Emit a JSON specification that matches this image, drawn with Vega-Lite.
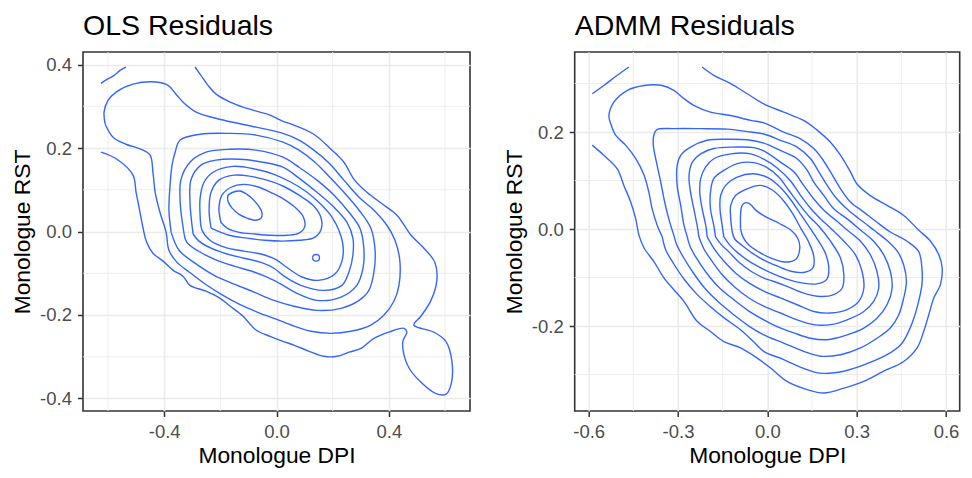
{
  "$schema": "https://vega.github.io/schema/vega-lite/v6.json",
  "background": "white",
  "padding": {"left": 10, "top": 10, "right": 5, "bottom": 5},
  "spacing": 29.7,
  "config": {
    "font": "Liberation Sans",
    "locale": {"number": {"decimal": ".", "thousands": ",", "grouping": [3], "currency": ["$", ""], "minus": "-"}},
    "view": {"stroke": "#333333", "strokeWidth": 1.6},
    "axis": {
      "domain": false, "grid": true, "gridColor": "#EBEBEB", "gridWidth": 1.6,
      "ticks": true, "tickColor": "#333333", "tickWidth": 1.5, "tickSize": 5.5,
      "labelColor": "#4D4D4D", "labelFont": "Liberation Sans", "labelFontSize": 18.5, "format": ".1f",
      "titleFont": "Liberation Sans", "titleFontSize": 22.8, "titleFontWeight": "normal", "titleColor": "#000000"
    },
    "axisX": {"labelPadding": 5.5, "titlePadding": 4},
    "axisY": {"labelPadding": 6, "titlePadding": 5},
    "title": {"font": "Liberation Sans", "fontSize": 28.5, "fontWeight": "normal", "color": "#000000", "anchor": "start", "frame": "group", "baseline": "alphabetic", "offset": 11.5}
  },
  "datasets": {
    "olsMinorX": [{"v": -0.6}, {"v": -0.2}, {"v": 0.2}, {"v": 0.6}],
    "olsMinorY": [{"v": -0.3}, {"v": -0.1}, {"v": 0.1}, {"v": 0.3}],
    "admmMinorX": [{"v": -0.45}, {"v": -0.15}, {"v": 0.15}, {"v": 0.45}],
    "admmMinorY": [{"v": -0.3}, {"v": -0.1}, {"v": 0.1}, {"v": 0.3}],
    "ols": [
      {"c":"L1","x":-0.625,"y":0.190},{"c":"L1","x":-0.568,"y":0.173},{"c":"L1","x":-0.511,"y":0.135},{"c":"L1","x":-0.500,"y":0.094},{"c":"L1","x":-0.486,"y":0.046},{"c":"L1","x":-0.475,"y":0.008},{"c":"L1","x":-0.464,"y":-0.023},{"c":"L1","x":-0.440,"y":-0.052},{"c":"L1","x":-0.404,"y":-0.071},{"c":"L1","x":-0.368,"y":-0.093},{"c":"L1","x":-0.333,"y":-0.107},{"c":"L1","x":-0.308,"y":-0.129},{"c":"L1","x":-0.251,"y":-0.143},{"c":"L1","x":-0.201,"y":-0.160},{"c":"L1","x":-0.165,"y":-0.179},{"c":"L1","x":-0.119,"y":-0.203},{"c":"L1","x":-0.073,"y":-0.236},{"c":"L1","x":-0.023,"y":-0.251},{"c":"L1","x":0.023,"y":-0.263},{"c":"L1","x":0.062,"y":-0.272},{"c":"L1","x":0.116,"y":-0.287},{"c":"L1","x":0.169,"y":-0.299},{"c":"L1","x":0.215,"y":-0.299},{"c":"L1","x":0.258,"y":-0.289},{"c":"L1","x":0.301,"y":-0.280},{"c":"L1","x":0.347,"y":-0.256},{"c":"L1","x":0.400,"y":-0.241},{"c":"L1","x":0.454,"y":-0.232},{"c":"L1","x":0.464,"y":-0.241},{"c":"L1","x":0.450,"y":-0.263},{"c":"L1","x":0.454,"y":-0.296},{"c":"L1","x":0.472,"y":-0.327},{"c":"L1","x":0.511,"y":-0.359},{"c":"L1","x":0.564,"y":-0.387},{"c":"L1","x":0.603,"y":-0.390},{"c":"L1","x":0.621,"y":-0.368},{"c":"L1","x":0.625,"y":-0.313},{"c":"L1","x":0.603,"y":-0.263},{"c":"L1","x":0.560,"y":-0.241},{"c":"L1","x":0.489,"y":-0.224},{"c":"L1","x":0.514,"y":-0.203},{"c":"L1","x":0.550,"y":-0.165},{"c":"L1","x":0.571,"y":-0.117},{"c":"L1","x":0.564,"y":-0.074},{"c":"L1","x":0.525,"y":-0.040},{"c":"L1","x":0.479,"y":-0.009},{"c":"L1","x":0.429,"y":0.039},{"c":"L1","x":0.383,"y":0.063},{"c":"L1","x":0.322,"y":0.094},{"c":"L1","x":0.276,"y":0.125},{"c":"L1","x":0.240,"y":0.166},{"c":"L1","x":0.194,"y":0.197},{"c":"L1","x":0.133,"y":0.233},{"c":"L1","x":0.062,"y":0.255},{"c":"L1","x":0.023,"y":0.264},{"c":"L1","x":-0.023,"y":0.279},{"c":"L1","x":-0.059,"y":0.286},{"c":"L1","x":-0.119,"y":0.298},{"c":"L1","x":-0.165,"y":0.310},{"c":"L1","x":-0.215,"y":0.329},{"c":"L1","x":-0.244,"y":0.350},{"c":"L1","x":-0.269,"y":0.374},{"c":"L1","x":-0.290,"y":0.394},
      {"c":"L1b","x":-0.625,"y":0.355},{"c":"L1b","x":-0.603,"y":0.365},{"c":"L1b","x":-0.578,"y":0.374},{"c":"L1b","x":-0.557,"y":0.386},{"c":"L1b","x":-0.536,"y":0.394},
      {"c":"L2","x":-0.610,"y":0.257},{"c":"L2","x":-0.614,"y":0.286},{"c":"L2","x":-0.600,"y":0.314},{"c":"L2","x":-0.571,"y":0.334},{"c":"L2","x":-0.511,"y":0.353},{"c":"L2","x":-0.429,"y":0.358},{"c":"L2","x":-0.386,"y":0.350},{"c":"L2","x":-0.358,"y":0.329},{"c":"L2","x":-0.333,"y":0.310},{"c":"L2","x":-0.286,"y":0.286},{"c":"L2","x":-0.190,"y":0.267},{"c":"L2","x":-0.073,"y":0.250},{"c":"L2","x":0.023,"y":0.235},{"c":"L2","x":0.080,"y":0.219},{"c":"L2","x":0.133,"y":0.195},{"c":"L2","x":0.187,"y":0.164},{"c":"L2","x":0.240,"y":0.123},{"c":"L2","x":0.294,"y":0.082},{"c":"L2","x":0.347,"y":0.051},{"c":"L2","x":0.393,"y":0.015},{"c":"L2","x":0.422,"y":-0.021},{"c":"L2","x":0.439,"y":-0.069},{"c":"L2","x":0.436,"y":-0.129},{"c":"L2","x":0.418,"y":-0.167},{"c":"L2","x":0.383,"y":-0.200},{"c":"L2","x":0.336,"y":-0.224},{"c":"L2","x":0.265,"y":-0.239},{"c":"L2","x":0.194,"y":-0.244},{"c":"L2","x":0.123,"y":-0.239},{"c":"L2","x":0.052,"y":-0.224},{"c":"L2","x":-0.009,"y":-0.208},{"c":"L2","x":-0.069,"y":-0.193},{"c":"L2","x":-0.133,"y":-0.174},{"c":"L2","x":-0.198,"y":-0.150},{"c":"L2","x":-0.258,"y":-0.124},{"c":"L2","x":-0.311,"y":-0.097},{"c":"L2","x":-0.354,"y":-0.074},{"c":"L2","x":-0.383,"y":-0.045},{"c":"L2","x":-0.393,"y":-0.002},{"c":"L2","x":-0.415,"y":0.046},{"c":"L2","x":-0.432,"y":0.094},{"c":"L2","x":-0.440,"y":0.142},{"c":"L2","x":-0.450,"y":0.183},{"c":"L2","x":-0.482,"y":0.197},{"c":"L2","x":-0.536,"y":0.209},{"c":"L2","x":-0.582,"y":0.226},{"c":"L2","x":-0.610,"y":0.257},
      {"c":"L3","x":-0.375,"y":-0.002},{"c":"L3","x":-0.383,"y":0.051},{"c":"L3","x":-0.379,"y":0.111},{"c":"L3","x":-0.372,"y":0.159},{"c":"L3","x":-0.361,"y":0.190},{"c":"L3","x":-0.343,"y":0.219},{"c":"L3","x":-0.272,"y":0.233},{"c":"L3","x":-0.165,"y":0.235},{"c":"L3","x":-0.073,"y":0.231},{"c":"L3","x":0.023,"y":0.214},{"c":"L3","x":0.080,"y":0.195},{"c":"L3","x":0.137,"y":0.166},{"c":"L3","x":0.187,"y":0.132},{"c":"L3","x":0.240,"y":0.094},{"c":"L3","x":0.294,"y":0.051},{"c":"L3","x":0.336,"y":0.008},{"c":"L3","x":0.351,"y":-0.045},{"c":"L3","x":0.347,"y":-0.097},{"c":"L3","x":0.329,"y":-0.141},{"c":"L3","x":0.294,"y":-0.165},{"c":"L3","x":0.230,"y":-0.184},{"c":"L3","x":0.144,"y":-0.189},{"c":"L3","x":0.062,"y":-0.179},{"c":"L3","x":-0.009,"y":-0.165},{"c":"L3","x":-0.080,"y":-0.145},{"c":"L3","x":-0.151,"y":-0.126},{"c":"L3","x":-0.222,"y":-0.105},{"c":"L3","x":-0.294,"y":-0.074},{"c":"L3","x":-0.347,"y":-0.045},{"c":"L3","x":-0.375,"y":-0.002},
      {"c":"L4","x":-0.329,"y":-0.006},{"c":"L4","x":-0.343,"y":0.070},{"c":"L4","x":-0.340,"y":0.125},{"c":"L4","x":-0.308,"y":0.166},{"c":"L4","x":-0.251,"y":0.190},{"c":"L4","x":-0.165,"y":0.197},{"c":"L4","x":-0.073,"y":0.195},{"c":"L4","x":0.023,"y":0.178},{"c":"L4","x":0.080,"y":0.154},{"c":"L4","x":0.144,"y":0.123},{"c":"L4","x":0.205,"y":0.087},{"c":"L4","x":0.258,"y":0.046},{"c":"L4","x":0.297,"y":0.008},{"c":"L4","x":0.311,"y":-0.040},{"c":"L4","x":0.308,"y":-0.088},{"c":"L4","x":0.286,"y":-0.129},{"c":"L4","x":0.230,"y":-0.157},{"c":"L4","x":0.144,"y":-0.165},{"c":"L4","x":0.073,"y":-0.148},{"c":"L4","x":-0.009,"y":-0.117},{"c":"L4","x":-0.080,"y":-0.097},{"c":"L4","x":-0.151,"y":-0.083},{"c":"L4","x":-0.222,"y":-0.066},{"c":"L4","x":-0.283,"y":-0.045},{"c":"L4","x":-0.319,"y":-0.026},{"c":"L4","x":-0.329,"y":-0.006},
      {"c":"L5","x":-0.297,"y":-0.006},{"c":"L5","x":-0.308,"y":0.070},{"c":"L5","x":-0.304,"y":0.125},{"c":"L5","x":-0.269,"y":0.159},{"c":"L5","x":-0.215,"y":0.171},{"c":"L5","x":-0.130,"y":0.173},{"c":"L5","x":-0.048,"y":0.166},{"c":"L5","x":0.023,"y":0.154},{"c":"L5","x":0.080,"y":0.128},{"c":"L5","x":0.144,"y":0.094},{"c":"L5","x":0.205,"y":0.058},{"c":"L5","x":0.251,"y":0.022},{"c":"L5","x":0.272,"y":-0.016},{"c":"L5","x":0.272,"y":-0.057},{"c":"L5","x":0.258,"y":-0.097},{"c":"L5","x":0.233,"y":-0.129},{"c":"L5","x":0.169,"y":-0.141},{"c":"L5","x":0.087,"y":-0.129},{"c":"L5","x":0.027,"y":-0.107},{"c":"L5","x":-0.009,"y":-0.088},{"c":"L5","x":-0.055,"y":-0.074},{"c":"L5","x":-0.116,"y":-0.064},{"c":"L5","x":-0.176,"y":-0.054},{"c":"L5","x":-0.233,"y":-0.040},{"c":"L5","x":-0.276,"y":-0.023},{"c":"L5","x":-0.297,"y":-0.006},
      {"c":"L6","x":-0.272,"y":0.039},{"c":"L6","x":-0.272,"y":0.080},{"c":"L6","x":-0.258,"y":0.118},{"c":"L6","x":-0.226,"y":0.142},{"c":"L6","x":-0.155,"y":0.156},{"c":"L6","x":-0.073,"y":0.149},{"c":"L6","x":-0.009,"y":0.137},{"c":"L6","x":0.052,"y":0.118},{"c":"L6","x":0.109,"y":0.094},{"c":"L6","x":0.158,"y":0.065},{"c":"L6","x":0.198,"y":0.034},{"c":"L6","x":0.222,"y":0.003},{"c":"L6","x":0.237,"y":-0.035},{"c":"L6","x":0.233,"y":-0.071},{"c":"L6","x":0.208,"y":-0.102},{"c":"L6","x":0.148,"y":-0.117},{"c":"L6","x":0.091,"y":-0.109},{"c":"L6","x":0.041,"y":-0.088},{"c":"L6","x":-0.005,"y":-0.066},{"c":"L6","x":-0.055,"y":-0.054},{"c":"L6","x":-0.116,"y":-0.047},{"c":"L6","x":-0.183,"y":-0.038},{"c":"L6","x":-0.237,"y":-0.021},{"c":"L6","x":-0.265,"y":0.003},{"c":"L6","x":-0.272,"y":0.039},
      {"c":"L7","x":-0.233,"y":0.008},{"c":"L7","x":-0.240,"y":0.051},{"c":"L7","x":-0.233,"y":0.094},{"c":"L7","x":-0.205,"y":0.123},{"c":"L7","x":-0.151,"y":0.135},{"c":"L7","x":-0.091,"y":0.132},{"c":"L7","x":-0.034,"y":0.123},{"c":"L7","x":0.023,"y":0.109},{"c":"L7","x":0.080,"y":0.087},{"c":"L7","x":0.130,"y":0.063},{"c":"L7","x":0.158,"y":0.034},{"c":"L7","x":0.158,"y":0.003},{"c":"L7","x":0.130,"y":-0.016},{"c":"L7","x":0.080,"y":-0.021},{"c":"L7","x":0.023,"y":-0.023},{"c":"L7","x":-0.041,"y":-0.021},{"c":"L7","x":-0.105,"y":-0.016},{"c":"L7","x":-0.169,"y":-0.009},{"c":"L7","x":-0.233,"y":0.008},
      {"c":"L7b","x":0.128,"y":-0.063},{"c":"L7b","x":0.132,"y":-0.057},{"c":"L7b","x":0.141,"y":-0.055},{"c":"L7b","x":0.150,"y":-0.057},{"c":"L7b","x":0.153,"y":-0.063},{"c":"L7b","x":0.150,"y":-0.069},{"c":"L7b","x":0.141,"y":-0.071},{"c":"L7b","x":0.132,"y":-0.069},{"c":"L7b","x":0.128,"y":-0.063},
      {"c":"L8","x":-0.198,"y":0.022},{"c":"L8","x":-0.205,"y":0.056},{"c":"L8","x":-0.194,"y":0.087},{"c":"L8","x":-0.162,"y":0.106},{"c":"L8","x":-0.116,"y":0.113},{"c":"L8","x":-0.062,"y":0.106},{"c":"L8","x":-0.016,"y":0.092},{"c":"L8","x":0.027,"y":0.077},{"c":"L8","x":0.066,"y":0.058},{"c":"L8","x":0.094,"y":0.037},{"c":"L8","x":0.101,"y":0.013},{"c":"L8","x":0.080,"y":-0.004},{"c":"L8","x":0.037,"y":-0.009},{"c":"L8","x":-0.020,"y":-0.009},{"c":"L8","x":-0.077,"y":-0.006},{"c":"L8","x":-0.133,"y":-0.002},{"c":"L8","x":-0.176,"y":0.008},{"c":"L8","x":-0.198,"y":0.022},
      {"c":"L9","x":-0.173,"y":0.087},{"c":"L9","x":-0.155,"y":0.094},{"c":"L9","x":-0.130,"y":0.097},{"c":"L9","x":-0.105,"y":0.089},{"c":"L9","x":-0.084,"y":0.077},{"c":"L9","x":-0.066,"y":0.063},{"c":"L9","x":-0.052,"y":0.046},{"c":"L9","x":-0.055,"y":0.032},{"c":"L9","x":-0.077,"y":0.027},{"c":"L9","x":-0.105,"y":0.032},{"c":"L9","x":-0.133,"y":0.041},{"c":"L9","x":-0.158,"y":0.056},{"c":"L9","x":-0.173,"y":0.073},{"c":"L9","x":-0.173,"y":0.087}
    ],
    "admm": [
      {"c":"R1","x":-0.588,"y":0.173},{"c":"R1","x":-0.549,"y":0.152},{"c":"R1","x":-0.504,"y":0.124},{"c":"R1","x":-0.482,"y":0.090},{"c":"R1","x":-0.459,"y":0.056},{"c":"R1","x":-0.442,"y":0.021},{"c":"R1","x":-0.431,"y":-0.013},{"c":"R1","x":-0.414,"y":-0.039},{"c":"R1","x":-0.381,"y":-0.067},{"c":"R1","x":-0.347,"y":-0.101},{"c":"R1","x":-0.314,"y":-0.125},{"c":"R1","x":-0.280,"y":-0.149},{"c":"R1","x":-0.236,"y":-0.190},{"c":"R1","x":-0.191,"y":-0.211},{"c":"R1","x":-0.146,"y":-0.232},{"c":"R1","x":-0.090,"y":-0.245},{"c":"R1","x":-0.034,"y":-0.266},{"c":"R1","x":0.012,"y":-0.287},{"c":"R1","x":0.066,"y":-0.314},{"c":"R1","x":0.134,"y":-0.331},{"c":"R1","x":0.190,"y":-0.338},{"c":"R1","x":0.257,"y":-0.328},{"c":"R1","x":0.324,"y":-0.314},{"c":"R1","x":0.391,"y":-0.293},{"c":"R1","x":0.458,"y":-0.273},{"c":"R1","x":0.503,"y":-0.245},{"c":"R1","x":0.525,"y":-0.211},{"c":"R1","x":0.542,"y":-0.177},{"c":"R1","x":0.559,"y":-0.142},{"c":"R1","x":0.581,"y":-0.115},{"c":"R1","x":0.587,"y":-0.080},{"c":"R1","x":0.576,"y":-0.053},{"c":"R1","x":0.548,"y":-0.025},{"c":"R1","x":0.508,"y":-0.002},{"c":"R1","x":0.458,"y":0.028},{"c":"R1","x":0.402,"y":0.049},{"c":"R1","x":0.346,"y":0.069},{"c":"R1","x":0.301,"y":0.093},{"c":"R1","x":0.279,"y":0.118},{"c":"R1","x":0.246,"y":0.152},{"c":"R1","x":0.212,"y":0.179},{"c":"R1","x":0.167,"y":0.204},{"c":"R1","x":0.122,"y":0.224},{"c":"R1","x":0.055,"y":0.241},{"c":"R1","x":-0.012,"y":0.258},{"c":"R1","x":-0.068,"y":0.279},{"c":"R1","x":-0.123,"y":0.300},{"c":"R1","x":-0.180,"y":0.317},{"c":"R1","x":-0.219,"y":0.334},
      {"c":"R1b","x":-0.588,"y":0.279},{"c":"R1b","x":-0.549,"y":0.296},{"c":"R1b","x":-0.504,"y":0.317},{"c":"R1b","x":-0.465,"y":0.334},
      {"c":"R2","x":-0.353,"y":-0.016},{"c":"R2","x":-0.370,"y":0.008},{"c":"R2","x":-0.387,"y":0.042},{"c":"R2","x":-0.398,"y":0.076},{"c":"R2","x":-0.414,"y":0.111},{"c":"R2","x":-0.442,"y":0.145},{"c":"R2","x":-0.476,"y":0.173},{"c":"R2","x":-0.509,"y":0.193},{"c":"R2","x":-0.526,"y":0.217},{"c":"R2","x":-0.532,"y":0.234},{"c":"R2","x":-0.515,"y":0.262},{"c":"R2","x":-0.470,"y":0.286},{"c":"R2","x":-0.414,"y":0.296},{"c":"R2","x":-0.353,"y":0.296},{"c":"R2","x":-0.314,"y":0.286},{"c":"R2","x":-0.280,"y":0.269},{"c":"R2","x":-0.247,"y":0.255},{"c":"R2","x":-0.191,"y":0.241},{"c":"R2","x":-0.123,"y":0.234},{"c":"R2","x":-0.056,"y":0.224},{"c":"R2","x":-0.012,"y":0.219},{"c":"R2","x":0.055,"y":0.200},{"c":"R2","x":0.111,"y":0.186},{"c":"R2","x":0.156,"y":0.166},{"c":"R2","x":0.184,"y":0.145},{"c":"R2","x":0.212,"y":0.118},{"c":"R2","x":0.246,"y":0.083},{"c":"R2","x":0.279,"y":0.056},{"c":"R2","x":0.324,"y":0.035},{"c":"R2","x":0.368,"y":0.014},{"c":"R2","x":0.413,"y":-0.006},{"c":"R2","x":0.469,"y":-0.025},{"c":"R2","x":0.508,"y":-0.046},{"c":"R2","x":0.519,"y":-0.080},{"c":"R2","x":0.519,"y":-0.115},{"c":"R2","x":0.508,"y":-0.149},{"c":"R2","x":0.492,"y":-0.184},{"c":"R2","x":0.469,"y":-0.218},{"c":"R2","x":0.447,"y":-0.239},{"c":"R2","x":0.402,"y":-0.259},{"c":"R2","x":0.324,"y":-0.280},{"c":"R2","x":0.257,"y":-0.293},{"c":"R2","x":0.179,"y":-0.297},{"c":"R2","x":0.122,"y":-0.287},{"c":"R2","x":0.055,"y":-0.269},{"c":"R2","x":-0.012,"y":-0.252},{"c":"R2","x":-0.045,"y":-0.233},{"c":"R2","x":-0.089,"y":-0.208},{"c":"R2","x":-0.143,"y":-0.184},{"c":"R2","x":-0.193,"y":-0.159},{"c":"R2","x":-0.240,"y":-0.132},{"c":"R2","x":-0.280,"y":-0.103},{"c":"R2","x":-0.314,"y":-0.072},{"c":"R2","x":-0.341,"y":-0.043},{"c":"R2","x":-0.353,"y":-0.016},
      {"c":"R3","x":-0.314,"y":-0.013},{"c":"R3","x":-0.331,"y":0.021},{"c":"R3","x":-0.347,"y":0.062},{"c":"R3","x":-0.358,"y":0.097},{"c":"R3","x":-0.370,"y":0.131},{"c":"R3","x":-0.383,"y":0.173},{"c":"R3","x":-0.381,"y":0.194},{"c":"R3","x":-0.371,"y":0.205},{"c":"R3","x":-0.314,"y":0.207},{"c":"R3","x":-0.224,"y":0.207},{"c":"R3","x":-0.135,"y":0.206},{"c":"R3","x":-0.056,"y":0.200},{"c":"R3","x":-0.012,"y":0.196},{"c":"R3","x":0.044,"y":0.183},{"c":"R3","x":0.100,"y":0.169},{"c":"R3","x":0.145,"y":0.145},{"c":"R3","x":0.173,"y":0.118},{"c":"R3","x":0.201,"y":0.090},{"c":"R3","x":0.234,"y":0.062},{"c":"R3","x":0.279,"y":0.035},{"c":"R3","x":0.324,"y":0.014},{"c":"R3","x":0.357,"y":-0.002},{"c":"R3","x":0.401,"y":-0.023},{"c":"R3","x":0.438,"y":-0.047},{"c":"R3","x":0.458,"y":-0.074},{"c":"R3","x":0.467,"y":-0.108},{"c":"R3","x":0.458,"y":-0.142},{"c":"R3","x":0.441,"y":-0.177},{"c":"R3","x":0.413,"y":-0.204},{"c":"R3","x":0.368,"y":-0.225},{"c":"R3","x":0.313,"y":-0.245},{"c":"R3","x":0.246,"y":-0.259},{"c":"R3","x":0.179,"y":-0.262},{"c":"R3","x":0.122,"y":-0.252},{"c":"R3","x":0.055,"y":-0.235},{"c":"R3","x":-0.012,"y":-0.218},{"c":"R3","x":-0.062,"y":-0.200},{"c":"R3","x":-0.112,"y":-0.177},{"c":"R3","x":-0.163,"y":-0.151},{"c":"R3","x":-0.210,"y":-0.122},{"c":"R3","x":-0.250,"y":-0.089},{"c":"R3","x":-0.284,"y":-0.056},{"c":"R3","x":-0.304,"y":-0.033},{"c":"R3","x":-0.314,"y":-0.013},
      {"c":"R4","x":-0.269,"y":-0.016},{"c":"R4","x":-0.280,"y":0.008},{"c":"R4","x":-0.291,"y":0.049},{"c":"R4","x":-0.303,"y":0.090},{"c":"R4","x":-0.303,"y":0.131},{"c":"R4","x":-0.291,"y":0.152},{"c":"R4","x":-0.258,"y":0.169},{"c":"R4","x":-0.202,"y":0.183},{"c":"R4","x":-0.123,"y":0.185},{"c":"R4","x":-0.056,"y":0.183},{"c":"R4","x":-0.012,"y":0.177},{"c":"R4","x":0.044,"y":0.162},{"c":"R4","x":0.100,"y":0.145},{"c":"R4","x":0.134,"y":0.121},{"c":"R4","x":0.156,"y":0.097},{"c":"R4","x":0.190,"y":0.069},{"c":"R4","x":0.223,"y":0.042},{"c":"R4","x":0.268,"y":0.021},{"c":"R4","x":0.313,"y":-0.002},{"c":"R4","x":0.357,"y":-0.025},{"c":"R4","x":0.391,"y":-0.053},{"c":"R4","x":0.413,"y":-0.087},{"c":"R4","x":0.419,"y":-0.122},{"c":"R4","x":0.402,"y":-0.156},{"c":"R4","x":0.368,"y":-0.184},{"c":"R4","x":0.324,"y":-0.204},{"c":"R4","x":0.268,"y":-0.218},{"c":"R4","x":0.201,"y":-0.228},{"c":"R4","x":0.145,"y":-0.225},{"c":"R4","x":0.089,"y":-0.214},{"c":"R4","x":0.033,"y":-0.201},{"c":"R4","x":-0.012,"y":-0.187},{"c":"R4","x":-0.062,"y":-0.169},{"c":"R4","x":-0.112,"y":-0.146},{"c":"R4","x":-0.163,"y":-0.120},{"c":"R4","x":-0.206,"y":-0.089},{"c":"R4","x":-0.240,"y":-0.058},{"c":"R4","x":-0.260,"y":-0.035},{"c":"R4","x":-0.269,"y":-0.016},
      {"c":"R5","x":-0.230,"y":-0.016},{"c":"R5","x":-0.236,"y":0.008},{"c":"R5","x":-0.247,"y":0.042},{"c":"R5","x":-0.258,"y":0.076},{"c":"R5","x":-0.263,"y":0.111},{"c":"R5","x":-0.252,"y":0.138},{"c":"R5","x":-0.224,"y":0.155},{"c":"R5","x":-0.180,"y":0.166},{"c":"R5","x":-0.112,"y":0.169},{"c":"R5","x":-0.045,"y":0.168},{"c":"R5","x":-0.012,"y":0.161},{"c":"R5","x":0.044,"y":0.138},{"c":"R5","x":0.089,"y":0.118},{"c":"R5","x":0.122,"y":0.090},{"c":"R5","x":0.156,"y":0.062},{"c":"R5","x":0.190,"y":0.039},{"c":"R5","x":0.234,"y":0.016},{"c":"R5","x":0.268,"y":-0.002},{"c":"R5","x":0.313,"y":-0.025},{"c":"R5","x":0.346,"y":-0.053},{"c":"R5","x":0.368,"y":-0.087},{"c":"R5","x":0.374,"y":-0.122},{"c":"R5","x":0.357,"y":-0.149},{"c":"R5","x":0.324,"y":-0.170},{"c":"R5","x":0.268,"y":-0.187},{"c":"R5","x":0.212,"y":-0.197},{"c":"R5","x":0.156,"y":-0.197},{"c":"R5","x":0.100,"y":-0.187},{"c":"R5","x":0.044,"y":-0.173},{"c":"R5","x":-0.012,"y":-0.159},{"c":"R5","x":-0.062,"y":-0.142},{"c":"R5","x":-0.109,"y":-0.120},{"c":"R5","x":-0.153,"y":-0.093},{"c":"R5","x":-0.186,"y":-0.066},{"c":"R5","x":-0.213,"y":-0.041},{"c":"R5","x":-0.230,"y":-0.016},
      {"c":"R6","x":-0.202,"y":-0.016},{"c":"R6","x":-0.207,"y":0.008},{"c":"R6","x":-0.219,"y":0.042},{"c":"R6","x":-0.227,"y":0.076},{"c":"R6","x":-0.224,"y":0.104},{"c":"R6","x":-0.207,"y":0.128},{"c":"R6","x":-0.180,"y":0.145},{"c":"R6","x":-0.123,"y":0.155},{"c":"R6","x":-0.056,"y":0.155},{"c":"R6","x":-0.012,"y":0.144},{"c":"R6","x":0.033,"y":0.126},{"c":"R6","x":0.078,"y":0.099},{"c":"R6","x":0.111,"y":0.070},{"c":"R6","x":0.145,"y":0.043},{"c":"R6","x":0.179,"y":0.021},{"c":"R6","x":0.212,"y":0.002},{"c":"R6","x":0.257,"y":-0.025},{"c":"R6","x":0.296,"y":-0.053},{"c":"R6","x":0.318,"y":-0.087},{"c":"R6","x":0.324,"y":-0.122},{"c":"R6","x":0.307,"y":-0.149},{"c":"R6","x":0.268,"y":-0.166},{"c":"R6","x":0.212,"y":-0.173},{"c":"R6","x":0.156,"y":-0.170},{"c":"R6","x":0.100,"y":-0.156},{"c":"R6","x":0.044,"y":-0.142},{"c":"R6","x":-0.012,"y":-0.128},{"c":"R6","x":-0.062,"y":-0.111},{"c":"R6","x":-0.106,"y":-0.091},{"c":"R6","x":-0.143,"y":-0.068},{"c":"R6","x":-0.176,"y":-0.043},{"c":"R6","x":-0.202,"y":-0.016},
      {"c":"R7","x":-0.174,"y":-0.016},{"c":"R7","x":-0.180,"y":0.008},{"c":"R7","x":-0.191,"y":0.042},{"c":"R7","x":-0.191,"y":0.076},{"c":"R7","x":-0.180,"y":0.104},{"c":"R7","x":-0.146,"y":0.121},{"c":"R7","x":-0.101,"y":0.135},{"c":"R7","x":-0.045,"y":0.137},{"c":"R7","x":-0.005,"y":0.128},{"c":"R7","x":0.039,"y":0.107},{"c":"R7","x":0.072,"y":0.080},{"c":"R7","x":0.106,"y":0.052},{"c":"R7","x":0.139,"y":0.027},{"c":"R7","x":0.173,"y":0.006},{"c":"R7","x":0.212,"y":-0.025},{"c":"R7","x":0.246,"y":-0.060},{"c":"R7","x":0.257,"y":-0.094},{"c":"R7","x":0.251,"y":-0.122},{"c":"R7","x":0.223,"y":-0.135},{"c":"R7","x":0.179,"y":-0.139},{"c":"R7","x":0.122,"y":-0.132},{"c":"R7","x":0.066,"y":-0.118},{"c":"R7","x":0.022,"y":-0.108},{"c":"R7","x":-0.012,"y":-0.101},{"c":"R7","x":-0.055,"y":-0.087},{"c":"R7","x":-0.096,"y":-0.068},{"c":"R7","x":-0.129,"y":-0.047},{"c":"R7","x":-0.156,"y":-0.031},{"c":"R7","x":-0.174,"y":-0.016},
      {"c":"R8","x":-0.146,"y":-0.016},{"c":"R8","x":-0.152,"y":0.008},{"c":"R8","x":-0.159,"y":0.042},{"c":"R8","x":-0.157,"y":0.069},{"c":"R8","x":-0.140,"y":0.090},{"c":"R8","x":-0.101,"y":0.107},{"c":"R8","x":-0.045,"y":0.114},{"c":"R8","x":0.005,"y":0.105},{"c":"R8","x":0.045,"y":0.085},{"c":"R8","x":0.079,"y":0.060},{"c":"R8","x":0.109,"y":0.033},{"c":"R8","x":0.139,"y":0.006},{"c":"R8","x":0.166,"y":-0.019},{"c":"R8","x":0.193,"y":-0.047},{"c":"R8","x":0.206,"y":-0.076},{"c":"R8","x":0.200,"y":-0.103},{"c":"R8","x":0.166,"y":-0.113},{"c":"R8","x":0.116,"y":-0.111},{"c":"R8","x":0.065,"y":-0.103},{"c":"R8","x":0.022,"y":-0.093},{"c":"R8","x":-0.022,"y":-0.080},{"c":"R8","x":-0.062,"y":-0.066},{"c":"R8","x":-0.099,"y":-0.049},{"c":"R8","x":-0.126,"y":-0.033},{"c":"R8","x":-0.146,"y":-0.016},
      {"c":"R9","x":-0.118,"y":-0.006},{"c":"R9","x":-0.123,"y":0.021},{"c":"R9","x":-0.123,"y":0.049},{"c":"R9","x":-0.107,"y":0.069},{"c":"R9","x":-0.068,"y":0.083},{"c":"R9","x":-0.023,"y":0.090},{"c":"R9","x":0.018,"y":0.080},{"c":"R9","x":0.055,"y":0.058},{"c":"R9","x":0.086,"y":0.031},{"c":"R9","x":0.112,"y":0.002},{"c":"R9","x":0.139,"y":-0.027},{"c":"R9","x":0.156,"y":-0.056},{"c":"R9","x":0.153,"y":-0.080},{"c":"R9","x":0.126,"y":-0.089},{"c":"R9","x":0.079,"y":-0.087},{"c":"R9","x":0.032,"y":-0.076},{"c":"R9","x":-0.012,"y":-0.064},{"c":"R9","x":-0.052,"y":-0.049},{"c":"R9","x":-0.086,"y":-0.033},{"c":"R9","x":-0.109,"y":-0.021},{"c":"R9","x":-0.118,"y":-0.006},
      {"c":"R10","x":-0.090,"y":0.001},{"c":"R10","x":-0.090,"y":0.029},{"c":"R10","x":-0.086,"y":0.047},{"c":"R10","x":-0.076,"y":0.054},{"c":"R10","x":-0.059,"y":0.052},{"c":"R10","x":-0.039,"y":0.039},{"c":"R10","x":-0.005,"y":0.025},{"c":"R10","x":0.039,"y":0.012},{"c":"R10","x":0.079,"y":-0.002},{"c":"R10","x":0.102,"y":-0.019},{"c":"R10","x":0.109,"y":-0.039},{"c":"R10","x":0.096,"y":-0.062},{"c":"R10","x":0.059,"y":-0.068},{"c":"R10","x":0.012,"y":-0.060},{"c":"R10","x":-0.029,"y":-0.047},{"c":"R10","x":-0.062,"y":-0.033},{"c":"R10","x":-0.082,"y":-0.016},{"c":"R10","x":-0.090,"y":0.001}
    ]
  },
  "hconcat": [
    {
      "title": {"text": "OLS Residuals"},
      "width": 387,
      "height": 359,
      "layer": [
        {
          "data": {"name": "olsMinorX"},
          "mark": {"type": "rule", "color": "#EBEBEB", "strokeWidth": 0.9},
          "encoding": {"x": {"field": "v", "type": "quantitative", "scale": {"domain": [-0.689, 0.689], "nice": false, "zero": false}, "axis": {"values": [-0.4, 0, 0.4], "title": "Monologue DPI"}}}
        },
        {
          "data": {"name": "olsMinorY"},
          "mark": {"type": "rule", "color": "#EBEBEB", "strokeWidth": 0.9},
          "encoding": {"y": {"field": "v", "type": "quantitative", "scale": {"domain": [-0.43, 0.43], "nice": false, "zero": false}, "axis": {"values": [-0.4, -0.2, 0, 0.2, 0.4], "title": "Monologue RST"}}}
        },
        {
          "data": {"name": "ols"},
          "mark": {"type": "line", "color": "#3366FF", "strokeWidth": 1.4, "interpolate": "catmull-rom"},
          "encoding": {
            "x": {"field": "x", "type": "quantitative", "scale": {"domain": [-0.689, 0.689], "nice": false, "zero": false}, "axis": {"values": [-0.4, 0, 0.4], "title": "Monologue DPI"}},
            "y": {"field": "y", "type": "quantitative", "scale": {"domain": [-0.43, 0.43], "nice": false, "zero": false}, "axis": {"values": [-0.4, -0.2, 0, 0.2, 0.4], "title": "Monologue RST"}},
            "detail": {"field": "c", "type": "nominal"},
            "order": {"value": null}
          }
        }
      ]
    },
    {
      "title": {"text": "ADMM Residuals"},
      "width": 385,
      "height": 359,
      "layer": [
        {
          "data": {"name": "admmMinorX"},
          "mark": {"type": "rule", "color": "#EBEBEB", "strokeWidth": 0.9},
          "encoding": {"x": {"field": "v", "type": "quantitative", "scale": {"domain": [-0.647, 0.646], "nice": false, "zero": false}, "axis": {"values": [-0.6, -0.3, 0, 0.3, 0.6], "title": "Monologue DPI"}}}
        },
        {
          "data": {"name": "admmMinorY"},
          "mark": {"type": "rule", "color": "#EBEBEB", "strokeWidth": 0.9},
          "encoding": {"y": {"field": "v", "type": "quantitative", "scale": {"domain": [-0.375, 0.365], "nice": false, "zero": false}, "axis": {"values": [-0.2, 0, 0.2], "title": "Monologue RST"}}}
        },
        {
          "data": {"name": "admm"},
          "mark": {"type": "line", "color": "#3366FF", "strokeWidth": 1.4, "interpolate": "catmull-rom"},
          "encoding": {
            "x": {"field": "x", "type": "quantitative", "scale": {"domain": [-0.647, 0.646], "nice": false, "zero": false}, "axis": {"values": [-0.6, -0.3, 0, 0.3, 0.6], "title": "Monologue DPI"}},
            "y": {"field": "y", "type": "quantitative", "scale": {"domain": [-0.375, 0.365], "nice": false, "zero": false}, "axis": {"values": [-0.2, 0, 0.2], "title": "Monologue RST"}},
            "detail": {"field": "c", "type": "nominal"},
            "order": {"value": null}
          }
        }
      ]
    }
  ]
}
